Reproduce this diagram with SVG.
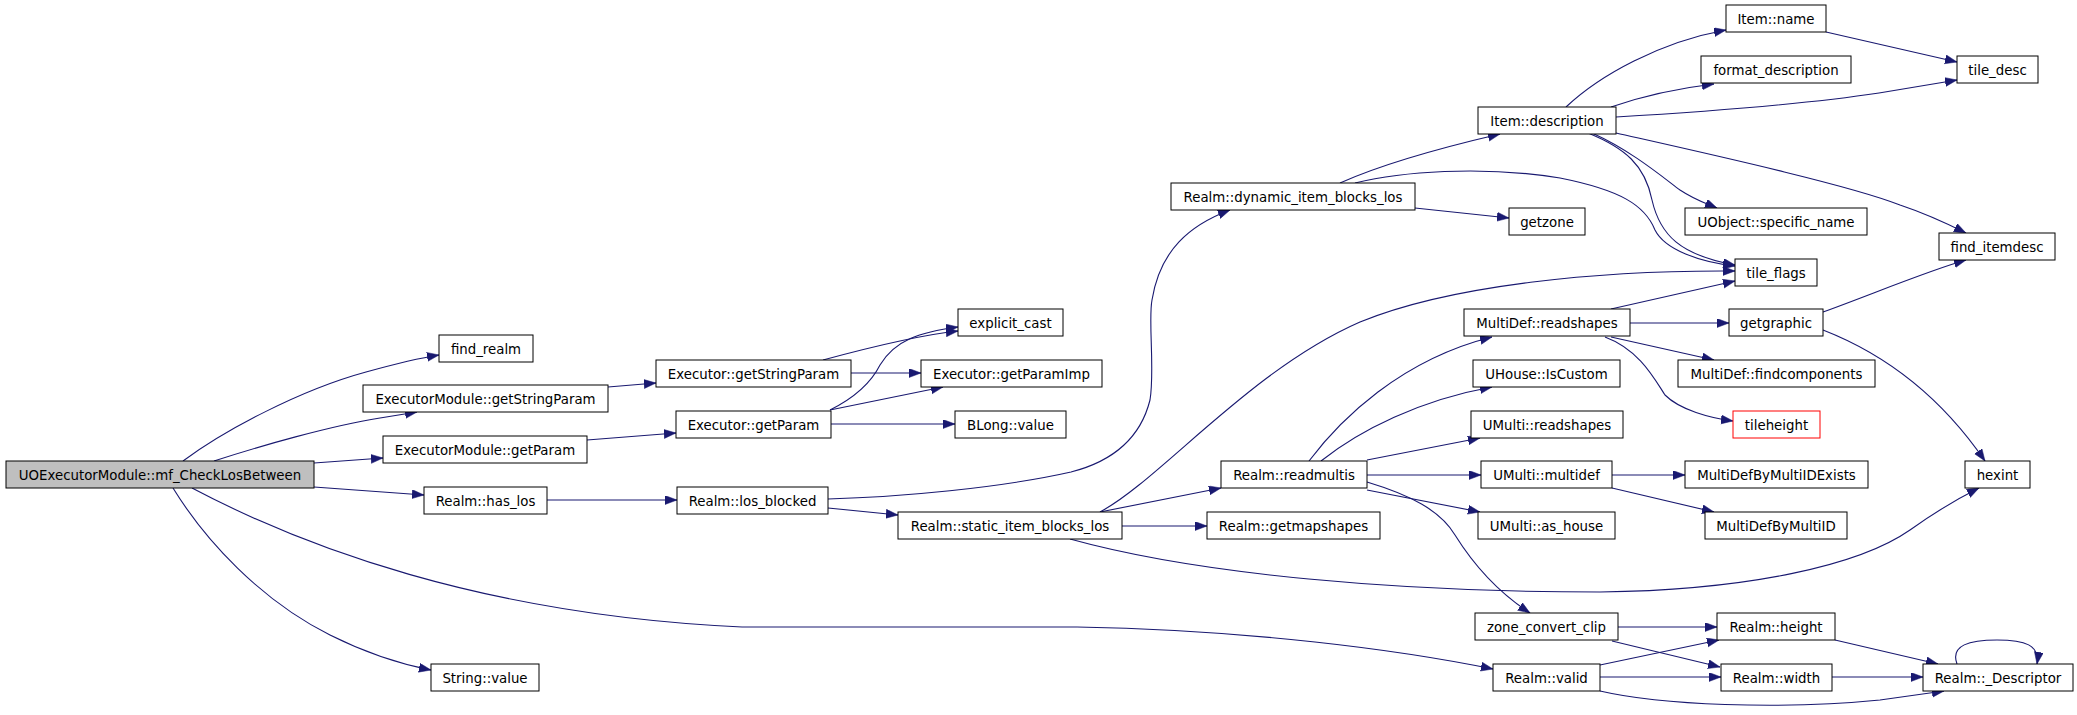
<svg xmlns="http://www.w3.org/2000/svg" width="2077" height="715" viewBox="0 0 2077 715">
<defs>
<marker id="ah" markerUnits="userSpaceOnUse" markerWidth="13" markerHeight="10" refX="12" refY="4.5" orient="auto">
<path d="M0,0 L12,4.5 L0,9 z" fill="#191970" stroke="#191970" stroke-width="0.5"/>
</marker>
</defs>
<style>
.n rect{fill:#fff;stroke:#000;stroke-width:1}
.n text{font-family:"DejaVu Sans",sans-serif;font-size:13.33px;fill:#000;text-anchor:middle}
#edges path{fill:none;stroke:#191970;stroke-width:1.1;marker-end:url(#ah)}
</style>
<rect width="2077" height="715" fill="#fff"/>
<g id="edges">
<path d="M183,461 C225,430 300,390 366,372 C395,364 420,358 439,355"/>
<path d="M214,461 C260,446 330,426 380,418 L417,412"/>
<path d="M314,463 L383,458"/>
<path d="M314,487 L424,495"/>
<path d="M192,488 C300,545 480,615 742,627 L1077,627 C1250,630 1400,650 1493,669"/>
<path d="M173,488 C205,540 260,600 330,635 C370,655 405,665 431,670"/>
<path d="M608,387 L656,383"/>
<path d="M587,440 L676,433"/>
<path d="M823,360 C860,350 920,335 958,331"/>
<path d="M851,373 L921,373"/>
<path d="M830,410 C850,400 870,385 880,365 C895,340 920,332 958,327"/>
<path d="M830,410 L943,387"/>
<path d="M831,424 L955,424"/>
<path d="M547,500 L677,500"/>
<path d="M828,499 C900,497 1000,488 1071,472 C1110,462 1140,440 1150,400 C1155,370 1148,320 1152,300 C1160,250 1190,225 1230,210"/>
<path d="M828,508 L898,515"/>
<path d="M1100,512 C1160,480 1250,370 1360,322 C1450,285 1600,270 1735,271"/>
<path d="M1100,512 L1221,488"/>
<path d="M1122,526 L1207,526"/>
<path d="M1070,539 C1200,575 1400,592 1600,592 C1750,590 1860,565 1910,530 C1945,505 1965,495 1979,488"/>
<path d="M1340,183 C1380,165 1440,148 1500,134"/>
<path d="M1415,208 L1509,218"/>
<path d="M1355,183 C1400,172 1480,165 1560,178 C1620,190 1645,205 1655,230 C1665,250 1700,262 1735,266"/>
<path d="M1566,107 C1600,75 1660,42 1726,30"/>
<path d="M1611,107 C1640,97 1680,88 1714,84"/>
<path d="M1616,117 C1700,112 1800,105 1879,93 L1957,80"/>
<path d="M1616,133 C1700,152 1850,185 1900,205 C1930,215 1950,225 1966,233"/>
<path d="M1592,133 C1630,150 1660,175 1680,190 C1695,200 1705,203 1717,208"/>
<path d="M1588,133 C1625,148 1645,165 1652,200 C1660,235 1680,255 1735,265"/>
<path d="M1826,32 L1957,62"/>
<path d="M1611,309 L1735,281"/>
<path d="M1630,323 L1729,323"/>
<path d="M1611,337 L1714,360"/>
<path d="M1605,337 C1640,350 1655,380 1665,395 C1680,410 1710,418 1733,421"/>
<path d="M1823,312 C1870,295 1930,270 1966,260"/>
<path d="M1823,330 C1900,360 1950,410 1985,461"/>
<path d="M1309,461 C1340,420 1400,360 1492,337"/>
<path d="M1321,461 C1360,430 1420,400 1492,387"/>
<path d="M1367,460 L1480,438"/>
<path d="M1367,475 L1481,475"/>
<path d="M1367,490 L1480,512"/>
<path d="M1367,482 C1410,495 1440,510 1455,535 C1480,575 1510,600 1530,613"/>
<path d="M1612,475 L1685,475"/>
<path d="M1612,488 L1714,512"/>
<path d="M1618,627 L1717,627"/>
<path d="M1612,641 L1720,667"/>
<path d="M1600,665 L1719,640"/>
<path d="M1600,677 L1721,677"/>
<path d="M1600,691 C1660,705 1780,710 1880,700 L1944,691"/>
<path d="M1835,640 L1938,664"/>
<path d="M1831,677 L1923,677"/>
<path d="M1957,664 C1950,645 1970,640 1997,640 C2025,640 2040,645 2037,664"/>
</g>
<g id="n_main" class="n"><rect x="6" y="461" width="308" height="27" style="fill:#bfbfbf"/><text x="160" y="479.5">UOExecutorModule::mf_CheckLosBetween</text></g>
<g id="n_find_realm" class="n"><rect x="439" y="335" width="94" height="27"/><text x="486" y="353.5">find_realm</text></g>
<g id="n_em_getStringParam" class="n"><rect x="363" y="385" width="245" height="27"/><text x="485.5" y="403.5">ExecutorModule::getStringParam</text></g>
<g id="n_em_getParam" class="n"><rect x="383" y="436" width="204" height="27"/><text x="485" y="454.5">ExecutorModule::getParam</text></g>
<g id="n_has_los" class="n"><rect x="424" y="487" width="123" height="27"/><text x="485.5" y="505.5">Realm::has_los</text></g>
<g id="n_string_value" class="n"><rect x="431" y="664" width="108" height="27"/><text x="485" y="682.5">String::value</text></g>
<g id="n_ex_getStringParam" class="n"><rect x="656" y="360" width="195" height="27"/><text x="753.5" y="378.5">Executor::getStringParam</text></g>
<g id="n_ex_getParam" class="n"><rect x="676" y="411" width="155" height="27"/><text x="753.5" y="429.5">Executor::getParam</text></g>
<g id="n_los_blocked" class="n"><rect x="677" y="487" width="151" height="27"/><text x="752.5" y="505.5">Realm::los_blocked</text></g>
<g id="n_explicit_cast" class="n"><rect x="958" y="309" width="105" height="27"/><text x="1010.5" y="327.5">explicit_cast</text></g>
<g id="n_getParamImp" class="n"><rect x="921" y="360" width="181" height="27"/><text x="1011.5" y="378.5">Executor::getParamImp</text></g>
<g id="n_blong_value" class="n"><rect x="955" y="411" width="111" height="27"/><text x="1010.5" y="429.5">BLong::value</text></g>
<g id="n_static" class="n"><rect x="898" y="512" width="224" height="27"/><text x="1010" y="530.5">Realm::static_item_blocks_los</text></g>
<g id="n_dynamic" class="n"><rect x="1171" y="183" width="244" height="27"/><text x="1293" y="201.5">Realm::dynamic_item_blocks_los</text></g>
<g id="n_readmultis" class="n"><rect x="1221" y="461" width="146" height="27"/><text x="1294" y="479.5">Realm::readmultis</text></g>
<g id="n_getmapshapes" class="n"><rect x="1207" y="512" width="173" height="27"/><text x="1293.5" y="530.5">Realm::getmapshapes</text></g>
<g id="n_item_description" class="n"><rect x="1478" y="107" width="138" height="27"/><text x="1547" y="125.5">Item::description</text></g>
<g id="n_getzone" class="n"><rect x="1509" y="208" width="76" height="27"/><text x="1547" y="226.5">getzone</text></g>
<g id="n_md_readshapes" class="n"><rect x="1464" y="309" width="166" height="27"/><text x="1547" y="327.5">MultiDef::readshapes</text></g>
<g id="n_uhouse_iscustom" class="n"><rect x="1473" y="360" width="147" height="27"/><text x="1546.5" y="378.5">UHouse::IsCustom</text></g>
<g id="n_umulti_readshapes" class="n"><rect x="1471" y="411" width="152" height="27"/><text x="1547" y="429.5">UMulti::readshapes</text></g>
<g id="n_umulti_multidef" class="n"><rect x="1481" y="461" width="131" height="27"/><text x="1546.5" y="479.5">UMulti::multidef</text></g>
<g id="n_umulti_as_house" class="n"><rect x="1478" y="512" width="137" height="27"/><text x="1546.5" y="530.5">UMulti::as_house</text></g>
<g id="n_zone_convert_clip" class="n"><rect x="1475" y="613" width="143" height="27"/><text x="1546.5" y="631.5">zone_convert_clip</text></g>
<g id="n_realm_valid" class="n"><rect x="1493" y="664" width="107" height="27"/><text x="1546.5" y="682.5">Realm::valid</text></g>
<g id="n_item_name" class="n"><rect x="1726" y="5" width="100" height="27"/><text x="1776" y="23.5">Item::name</text></g>
<g id="n_format_description" class="n"><rect x="1701" y="56" width="150" height="27"/><text x="1776" y="74.5">format_description</text></g>
<g id="n_uobject_specific_name" class="n"><rect x="1685" y="208" width="182" height="27"/><text x="1776" y="226.5">UObject::specific_name</text></g>
<g id="n_tile_flags" class="n"><rect x="1735" y="259" width="82" height="27"/><text x="1776" y="277.5">tile_flags</text></g>
<g id="n_getgraphic" class="n"><rect x="1729" y="309" width="94" height="27"/><text x="1776" y="327.5">getgraphic</text></g>
<g id="n_findcomponents" class="n"><rect x="1678" y="360" width="197" height="27"/><text x="1776.5" y="378.5">MultiDef::findcomponents</text></g>
<g id="n_tileheight" class="n"><rect x="1733" y="411" width="87" height="27" style="stroke:#ff0000"/><text x="1776.5" y="429.5">tileheight</text></g>
<g id="n_mdbmidexists" class="n"><rect x="1685" y="461" width="183" height="27"/><text x="1776.5" y="479.5">MultiDefByMultiIDExists</text></g>
<g id="n_mdbmid" class="n"><rect x="1705" y="512" width="142" height="27"/><text x="1776" y="530.5">MultiDefByMultiID</text></g>
<g id="n_realm_height" class="n"><rect x="1717" y="613" width="118" height="27"/><text x="1776" y="631.5">Realm::height</text></g>
<g id="n_realm_width" class="n"><rect x="1721" y="664" width="111" height="27"/><text x="1776.5" y="682.5">Realm::width</text></g>
<g id="n_tile_desc" class="n"><rect x="1957" y="56" width="81" height="27"/><text x="1997.5" y="74.5">tile_desc</text></g>
<g id="n_find_itemdesc" class="n"><rect x="1939" y="233" width="116" height="27"/><text x="1997" y="251.5">find_itemdesc</text></g>
<g id="n_hexint" class="n"><rect x="1965" y="461" width="65" height="27"/><text x="1997.5" y="479.5">hexint</text></g>
<g id="n_descriptor" class="n"><rect x="1923" y="664" width="150" height="27"/><text x="1998" y="682.5">Realm::_Descriptor</text></g>
</svg>
